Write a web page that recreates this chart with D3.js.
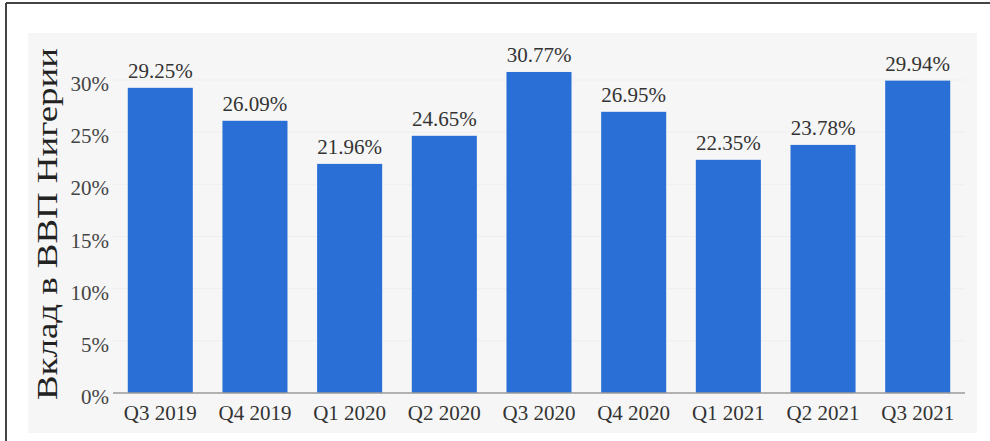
<!DOCTYPE html>
<html>
<head>
<meta charset="utf-8">
<script src="https://cdn.jsdelivr.net/npm/d3@7"></script>
<style>
  html, body { margin: 0; padding: 0; background: #fff; }
  svg { display: block; }
</style>
</head>
<body>
<div id="chart"></div>
<script>
// quarters and contribution to GDP (%)
const quarters = ["Q3 2019", "Q4 2019", "Q1 2020", "Q2 2020", "Q3 2020", "Q4 2020", "Q1 2021", "Q2 2021", "Q3 2021"];
const shares = [29.25, 26.09, 21.96, 24.65, 30.77, 26.95, 22.35, 23.78, 29.94];
const yTicks = [0, 5, 10, 15, 20, 25, 30];
const yTitle = "Вклад в ВВП Нигерии";

const W = 990, H = 441;
const BAR = "#2a6fd6";
const FONT = "'Liberation Serif', 'Times New Roman', serif";

const svg = d3.select("#chart").append("svg")
  .attr("width", W)
  .attr("height", H);

// outer frame (top + left lines only)
svg.append("line").attr("x1", 6).attr("x2", W).attr("y1", 3).attr("y2", 3)
  .attr("stroke", "#444").attr("stroke-width", 2);
svg.append("line").attr("x1", 6).attr("x2", 6).attr("y1", 3).attr("y2", H)
  .attr("stroke", "#444").attr("stroke-width", 2);

// inner panel
svg.append("rect").attr("x", 28).attr("y", 33).attr("width", 949).attr("height", 400)
  .attr("fill", "#f6f6f6");

const x = d3.scaleBand()
  .domain(quarters)
  .range([113, 965])
  .paddingInner(0.313)
  .paddingOuter(0.156);

const y = d3.scaleLinear()
  .domain([0, 30])
  .range([393, 80]);

// faint gridlines
svg.append("g")
  .selectAll("line")
  .data(yTicks.slice(1))
  .join("line")
  .attr("x1", 113).attr("x2", 965)
  .attr("y1", d => y(d)).attr("y2", d => y(d))
  .attr("stroke", "#eeeeee");

// bars
svg.append("g")
  .selectAll("rect")
  .data(shares)
  .join("rect")
  .attr("x", (d, i) => x(quarters[i]))
  .attr("width", x.bandwidth())
  .attr("y", d => y(d))
  .attr("height", d => y(0) - y(d))
  .attr("fill", BAR);

// baseline
svg.append("line").attr("x1", 113).attr("x2", 965).attr("y1", y(0)).attr("y2", y(0))
  .attr("stroke", "#9a9a9a").attr("stroke-width", 1.5);

// value labels
svg.append("g")
  .selectAll("text")
  .data(shares)
  .join("text")
  .attr("x", (d, i) => x(quarters[i]) + x.bandwidth() / 2)
  .attr("y", d => y(d) - 10)
  .attr("text-anchor", "middle")
  .attr("font-family", FONT)
  .attr("font-size", "21px")
  .attr("fill", "#333")
  .text(d => d.toFixed(2) + "%");

// y tick labels
svg.append("g")
  .selectAll("text")
  .data(yTicks)
  .join("text")
  .attr("x", 109)
  .attr("y", d => y(d) + 11)
  .attr("text-anchor", "end")
  .attr("font-family", FONT)
  .attr("font-size", "21px")
  .attr("fill", "#444")
  .text(d => d + "%");

// x tick labels
svg.append("g")
  .selectAll("text")
  .data(quarters)
  .join("text")
  .attr("x", d => x(d) + x.bandwidth() / 2)
  .attr("y", 420)
  .attr("text-anchor", "middle")
  .attr("font-family", FONT)
  .attr("font-size", "21px")
  .attr("fill", "#333")
  .text(d => d);

// y axis title
svg.append("text")
  .attr("transform", "translate(57,224) rotate(-90)")
  .attr("text-anchor", "middle")
  .attr("font-family", FONT)
  .attr("font-size", "30px")
  .attr("fill", "#222")
  .attr("textLength", 352)
  .attr("lengthAdjust", "spacingAndGlyphs")
  .text(yTitle);
</script>
</body>
</html>
